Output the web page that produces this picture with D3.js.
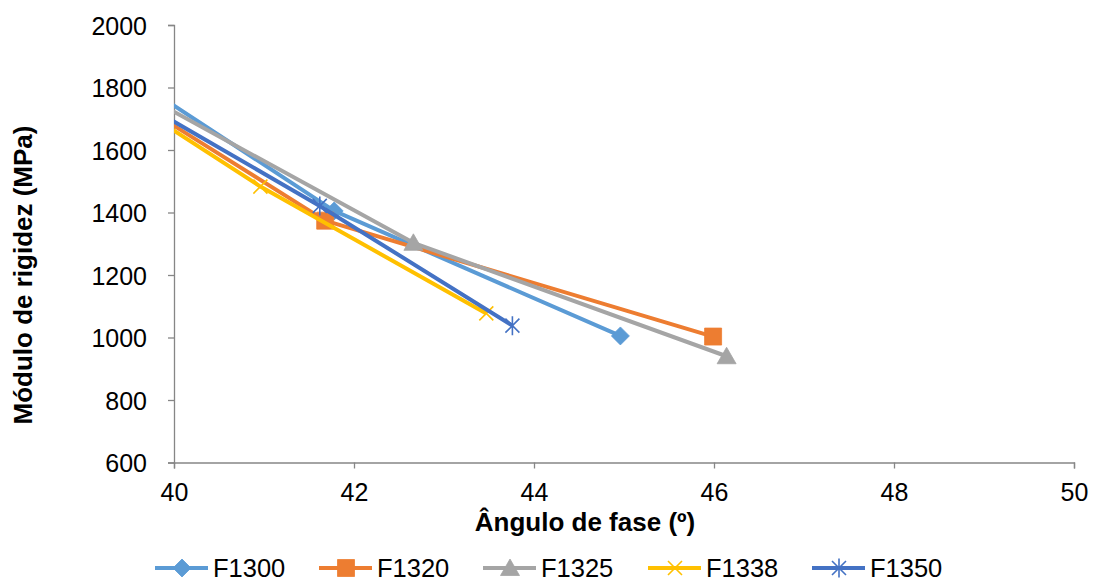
<!DOCTYPE html>
<html>
<head>
<meta charset="utf-8">
<script src="https://cdn.jsdelivr.net/npm/d3@7"></script>
<style>
  html, body { margin: 0; padding: 0; background: #fff; }
  svg { display: block; font-family: "Liberation Sans", Arial, sans-serif; }
</style>
</head>
<body>
<svg id="chart" width="1101" height="582"></svg>
<script>
// Phase angle (º) and stiffness modulus (MPa) per mixture
const seriesNames = ["F1300", "F1320", "F1325", "F1338", "F1350"];
const angleF1300 = [39.5, 41.78, 44.96];
const modF1300   = [1837, 1405, 1005];
const angleF1320 = [39.5, 41.68, 45.99];
const modF1320   = [1768, 1374, 1003];
const angleF1325 = [39.5, 42.66, 46.14];
const modF1325   = [1801, 1303, 940];
const angleF1338 = [39.5, 40.96, 43.47];
const modF1338   = [1755, 1483, 1077];
const angleF1350 = [39.5, 41.62, 43.76];
const modF1350   = [1774, 1421, 1038];

const xTicks = [40, 42, 44, 46, 48, 50];
const yTicks = [600, 800, 1000, 1200, 1400, 1600, 1800, 2000];

const colors  = ["#5B9BD5", "#ED7D31", "#A5A5A5", "#FFC000", "#4472C4"];
const markers = ["diamond", "square", "triangle", "x", "asterisk"];

const series = [
  { name: seriesNames[0], x: angleF1300, y: modF1300 },
  { name: seriesNames[1], x: angleF1320, y: modF1320 },
  { name: seriesNames[2], x: angleF1325, y: modF1325 },
  { name: seriesNames[3], x: angleF1338, y: modF1338 },
  { name: seriesNames[4], x: angleF1350, y: modF1350 }
];

const svg = d3.select("#chart");
const plot = { left: 174, right: 1074, top: 25, bottom: 462.5 };

const x = d3.scaleLinear().domain([40, 50]).range([plot.left, plot.right]);
const y = d3.scaleLinear().domain([600, 2000]).range([plot.bottom, plot.top]);

svg.append("defs").append("clipPath").attr("id", "plotClip")
  .append("rect")
  .attr("x", plot.left).attr("y", plot.top - 10)
  .attr("width", plot.right - plot.left + 10)
  .attr("height", plot.bottom - plot.top + 10);

const axisColor = "#868686";

// Axes
const yAxis = svg.append("g")
  .attr("transform", `translate(${plot.left},0)`)
  .call(d3.axisLeft(y).tickValues(yTicks).tickSize(6).tickPadding(21).tickFormat(d3.format("d")));
const xAxis = svg.append("g")
  .attr("transform", `translate(0,${plot.bottom})`)
  .call(d3.axisBottom(x).tickValues(xTicks).tickSize(6).tickPadding(14).tickFormat(d3.format("d")));

[xAxis, yAxis].forEach(g => {
  g.select(".domain").attr("stroke", axisColor).attr("stroke-width", 1.3);
  g.selectAll(".tick line").attr("stroke", axisColor).attr("stroke-width", 1.3);
  g.selectAll(".tick text").attr("fill", "#000").style("font-size", "25px")
    .style("font-family", "'Liberation Sans', Arial, sans-serif");
});
yAxis.selectAll(".tick text").attr("dy", "0.36em");
xAxis.selectAll(".tick text").attr("dy", "0.72em");

// Axis titles
svg.append("text")
  .attr("x", 585).attr("y", 531)
  .attr("text-anchor", "middle")
  .style("font-size", "26px").style("font-weight", "bold")
  .text("Ângulo de fase (º)");

svg.append("text")
  .attr("transform", "translate(32,275) rotate(-90)")
  .attr("text-anchor", "middle")
  .style("font-size", "26px").style("font-weight", "bold")
  .text("Módulo de rigidez (MPa)");

// Marker shapes
function markerPath(kind) {
  switch (kind) {
    case "diamond":  return "M0,-9L9,0L0,9L-9,0Z";
    case "square":   return "M-8.5,-8.5H8.5V8.5H-8.5Z";
    case "triangle": return "M0,-9L9.5,7.5L-9.5,7.5Z";
    case "x":        return "M-7,-7L7,7M-7,7L7,-7";
    case "asterisk": return "M-7,-7L7,7M-7,7L7,-7M0,-9.5L0,9.5";
  }
}
function drawMarker(g, kind, color, cx, cy) {
  const filled = kind === "diamond" || kind === "square" || kind === "triangle";
  g.append("path")
    .attr("d", markerPath(kind))
    .attr("transform", `translate(${cx},${cy})`)
    .attr("fill", filled ? color : "none")
    .attr("stroke", color)
    .attr("stroke-width", filled ? 0.8 : 1.6);
}

const line = d3.line().x(d => x(d[0])).y(d => y(d[1]));
const plotG = svg.append("g").attr("clip-path", "url(#plotClip)");

series.forEach((s, i) => {
  const pts = s.x.map((v, j) => [v, s.y[j]]);
  const g = plotG.append("g");
  g.append("path")
    .datum(pts)
    .attr("d", line)
    .attr("fill", "none")
    .attr("stroke", colors[i])
    .attr("stroke-width", 4)
    .attr("stroke-linejoin", "round");
  pts.forEach(p => drawMarker(g, markers[i], colors[i], x(p[0]), y(p[1])));
});

// Legend
const legendX = [155, 319, 483, 648, 812];
const legendY = 568;
series.forEach((s, i) => {
  const g = svg.append("g");
  g.append("line")
    .attr("x1", legendX[i]).attr("x2", legendX[i] + 53)
    .attr("y1", legendY).attr("y2", legendY)
    .attr("stroke", colors[i]).attr("stroke-width", 4);
  drawMarker(g, markers[i], colors[i], legendX[i] + 27, legendY);
  g.append("text")
    .attr("x", legendX[i] + 58).attr("y", legendY)
    .attr("dy", "0.35em")
    .style("font-size", "25.5px")
    .text(s.name);
});
</script>
</body>
</html>
